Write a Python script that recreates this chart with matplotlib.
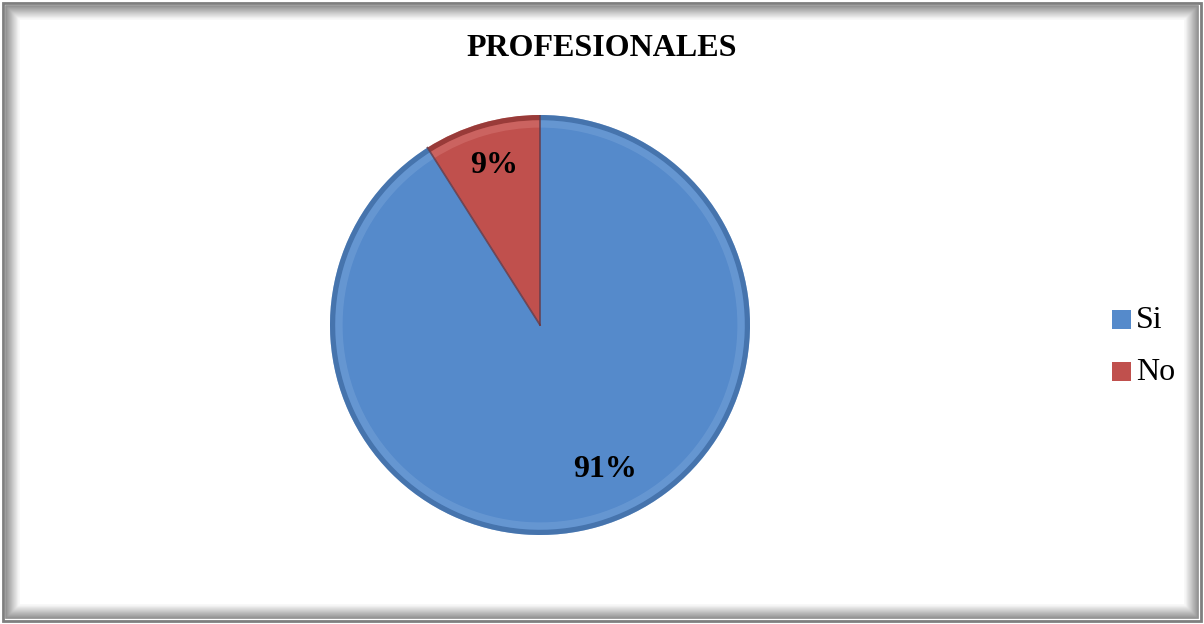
import matplotlib.pyplot as plt
from matplotlib.patches import Rectangle, Wedge
import numpy as np

title = "PROFESIONALES"
categories = ["Si", "No"]
values = [91, 9]
colors = ["#558ACB", "#C0504D"]
rim_colors = ["#3A6396", "#7A2B29"]
light_colors = ["#8DB3E2", "#E6908D"]

fig = plt.figure(figsize=(12.04, 6.24), dpi=100)
fig.patch.set_facecolor("white")

# frame with a soft bevel
bg = fig.add_axes([0, 0, 1, 1])
bg.set_xlim(0, 1204)
bg.set_ylim(624, 0)
bg.axis("off")
for i in range(14):
    shade = 0.55 + 0.45 * i / 14
    bg.add_patch(Rectangle((6 + i, 6 + i), 1192 - 2 * i, 612 - 2 * i,
                           fill=False, ec=(shade, shade, shade), lw=1.2))
bg.add_patch(Rectangle((3, 3), 1198, 618, fill=False, ec="#7f7f7f", lw=2))
bg.add_patch(Rectangle((20, 20), 1164, 584, fc="white", ec="none"))

fig.text(0.5, 0.922, title, ha="center", va="center", fontsize=23,
         fontweight="bold", family="Liberation Serif")

ax = fig.add_axes([330 / 1204, 89 / 624, 420 / 1204, 420 / 624])
ax.set_xlim(-1, 1)
ax.set_ylim(-1, 1)
ax.set_aspect("equal")
ax.axis("off")

start = 90.0
angles = []
for v in values:
    sweep = 360.0 * v / sum(values)
    angles.append((start - sweep, start))
    start -= sweep

for (a0, a1), c, rc, lc in zip(angles, colors, rim_colors, light_colors):
    ax.add_patch(Wedge((0, 0), 1.0, a0, a1, fc=c, ec="none"))
    # softer rim bands for the bevel look
    ax.add_patch(Wedge((0, 0), 1.0, a0, a1, width=0.025, fc=rc, ec="none", alpha=0.55))
    ax.add_patch(Wedge((0, 0), 0.975, a0, a1, width=0.035, fc=lc, ec="none", alpha=0.3))
    for a in (a0, a1):
        r = np.deg2rad(a)
        ax.plot([0, np.cos(r)], [0, np.sin(r)], color=rc, lw=1.2, alpha=0.6)

label_pos = [(0.31, -0.69), (-0.22, 0.76)]
for (x, y), v in zip(label_pos, values):
    ax.text(x, y, f"{v}%", ha="center", va="center", fontsize=23,
            fontweight="bold", family="Liberation Serif")

# legend
leg_y = [320, 372]
for cat, c, y in zip(categories, colors, leg_y):
    bg.add_patch(Rectangle((1112, y - 10), 19, 19, fc=c, ec="none"))
    bg.text(1136, y + 1, cat, ha="left", va="center", fontsize=23,
            family="Liberation Serif")

fig.savefig("out.png", dpi=100)
